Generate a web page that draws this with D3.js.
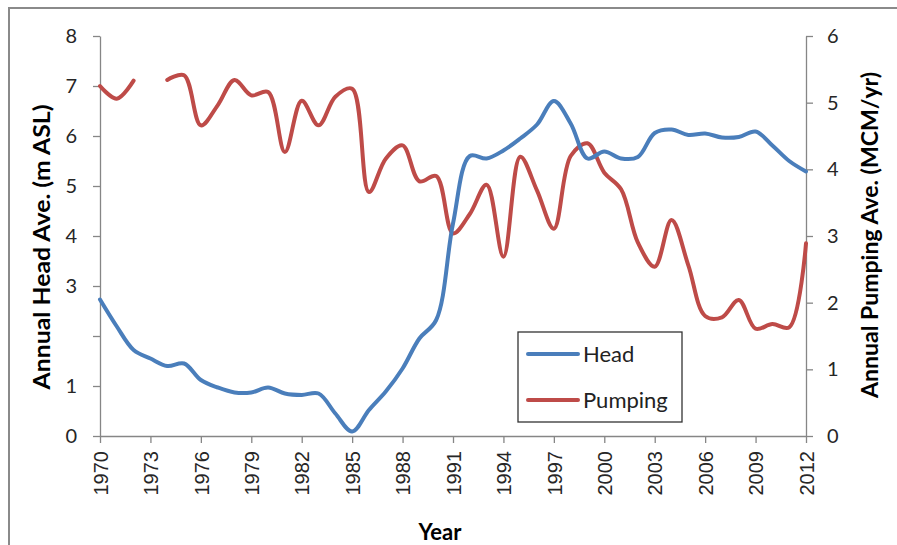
<!DOCTYPE html>
<html>
<head>
<meta charset="utf-8">
<script src="https://cdn.jsdelivr.net/npm/d3@7"></script>
<style>
  html, body { margin: 0; padding: 0; background: #fff; }
  svg { display: block; }
</style>
</head>
<body>
<svg id="chart" width="897" height="545"></svg>
<script>
// ---- Data ----
const years = d3.range(1970, 2013);
const head = [2.73, 2.19, 1.72, 1.55, 1.40, 1.45, 1.12, 0.97, 0.87, 0.87,
              0.97, 0.85, 0.82, 0.85, 0.45, 0.09, 0.52, 0.89, 1.35, 1.95,
              2.32, 4.25, 5.60, 5.55, 5.71, 5.95, 6.23, 6.70, 6.25, 5.55,
              5.69, 5.55, 5.58, 6.06, 6.13, 6.02, 6.05, 5.97, 5.98, 6.09,
              5.81, 5.50, 5.29];
const pumping = [5.25, 5.06, 5.33, null, 5.34, 5.41, 4.66, 4.96, 5.34, 5.11,
                 5.16, 4.26, 5.03, 4.66, 5.09, 5.21, 3.66, 4.16, 4.36, 3.82,
                 3.90, 3.04, 3.33, 3.77, 2.69, 4.19, 3.68, 3.11, 4.20, 4.39,
                 3.95, 3.70, 2.90, 2.54, 3.24, 2.56, 1.80, 1.78, 2.04, 1.61,
                 1.68, 1.63, 2.89];
const xTickValues = d3.range(1970, 2013, 3);
const leftTickValues = [0, 1, 2, 3, 4, 5, 6, 7, 8];
const leftTickLabels = ["0", "1", "", "3", "4", "5", "6", "7", "8"];
const rightTickValues = [0, 1, 2, 3, 4, 5, 6];
const rightTickLabels = ["0", "1", "2", "3", "4", "5", "6"];
const seriesNames = ["Head", "Pumping"];
const seriesColors = ["#4A7EBB", "#BE4B48"];

// ---- Layout ----
const svg = d3.select("#chart");
const plot = { left: 100, right: 806, top: 36, bottom: 436 };
const x = d3.scaleLinear().domain([1970, 2012]).range([plot.left, plot.right]);
const yL = d3.scaleLinear().domain([0, 8]).range([plot.bottom, plot.top]);
const yR = d3.scaleLinear().domain([0, 6]).range([plot.bottom, plot.top]);
const axisColor = "#868686";
const tickFont = "Lato, 'Open Sans', sans-serif";

// outer chart frame (cropped at right and bottom)
svg.append("rect").attr("x", 9).attr("y", 8).attr("width", 1000).attr("height", 1000)
  .attr("fill", "none").attr("stroke", "#8a8a8a").attr("stroke-width", 2);

function styleAxis(g) {
  g.selectAll(".domain").attr("stroke", axisColor).attr("stroke-width", 1.3);
  g.selectAll(".tick line").attr("stroke", axisColor).attr("stroke-width", 1.3);
}

// left axis
const gL = svg.append("g").attr("transform", `translate(${plot.left},0)`)
  .call(d3.axisLeft(yL).tickValues(leftTickValues)
    .tickFormat((d, i) => leftTickLabels[i]).tickSize(7).tickSizeOuter(0).tickPadding(16));
styleAxis(gL);
gL.selectAll(".tick text").attr("font-family", tickFont).attr("font-size", 20).attr("fill", "#262626");

// right axis
const gR = svg.append("g").attr("transform", `translate(${plot.right},0)`)
  .call(d3.axisRight(yR).tickValues(rightTickValues)
    .tickFormat((d, i) => rightTickLabels[i]).tickSize(7).tickSizeOuter(0).tickPadding(14));
styleAxis(gR);
gR.selectAll(".tick text").attr("font-family", tickFont).attr("font-size", 20).attr("fill", "#262626");

// bottom axis
const gB = svg.append("g").attr("transform", `translate(0,${plot.bottom})`)
  .call(d3.axisBottom(x).tickValues(xTickValues).tickFormat(d3.format("d")).tickSize(7).tickSizeOuter(0));
styleAxis(gB);
gB.selectAll(".tick text")
  .attr("font-family", "'Liberation Sans Narrow', 'Liberation Sans', Arial, sans-serif")
  .attr("font-size", 20).attr("fill", "#262626")
  .attr("text-anchor", "end")
  .attr("transform", "rotate(-90)")
  .attr("x", -15).attr("y", 0).attr("dy", "0.36em");

// lines
const lineL = d3.line().defined(d => d[1] != null)
  .x(d => x(d[0])).y(d => yL(d[1])).curve(d3.curveCatmullRom.alpha(0.5));
const lineR = d3.line().defined(d => d[1] != null)
  .x(d => x(d[0])).y(d => yR(d[1])).curve(d3.curveCatmullRom.alpha(0.5));

svg.append("path").datum(years.map((yr, i) => [yr, pumping[i]]))
  .attr("d", lineR).attr("fill", "none").attr("stroke", seriesColors[1])
  .attr("stroke-width", 4).attr("stroke-linecap", "round").attr("stroke-linejoin", "round");
svg.append("path").datum(years.map((yr, i) => [yr, head[i]]))
  .attr("d", lineL).attr("fill", "none").attr("stroke", seriesColors[0])
  .attr("stroke-width", 4).attr("stroke-linecap", "round").attr("stroke-linejoin", "round");

// axis titles
const titleFont = "Lato, 'Open Sans', sans-serif";
svg.append("text").text("Year")
  .attr("x", 440).attr("y", 540).attr("text-anchor", "middle")
  .attr("font-family", titleFont).attr("font-weight", "bold").attr("font-size", 22).attr("fill", "#000");
svg.append("text").text("Annual Head Ave. (m ASL)")
  .attr("transform", "translate(50,247) rotate(-90)").attr("text-anchor", "middle")
  .attr("font-family", titleFont).attr("font-weight", "bold").attr("font-size", 23)
  .attr("textLength", 285).attr("lengthAdjust", "spacingAndGlyphs").attr("fill", "#000");
svg.append("text").text("Annual Pumping Ave. (MCM/yr)")
  .attr("transform", "translate(878,235) rotate(-90)").attr("text-anchor", "middle")
  .attr("font-family", titleFont).attr("font-weight", "bold").attr("font-size", 23)
  .attr("textLength", 326).attr("lengthAdjust", "spacingAndGlyphs").attr("fill", "#000");

// legend
const lg = svg.append("g");
lg.append("rect").attr("x", 518).attr("y", 332).attr("width", 164).attr("height", 90)
  .attr("fill", "#fff").attr("stroke", "#333").attr("stroke-width", 1.3);
seriesNames.forEach((name, i) => {
  const cy = 354 + i * 46;
  lg.append("line").attr("x1", 528).attr("x2", 578).attr("y1", cy).attr("y2", cy)
    .attr("stroke", seriesColors[i]).attr("stroke-width", 4).attr("stroke-linecap", "round");
  lg.append("text").text(name).attr("x", 583).attr("y", cy + 8)
    .attr("font-family", titleFont).attr("font-size", 22).attr("fill", "#222");
});
</script>
</body>
</html>
